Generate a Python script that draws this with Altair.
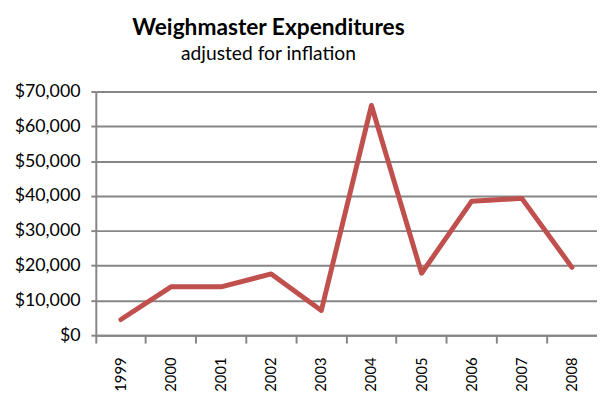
import altair as alt
import pandas as pd

years = ["1999", "2000", "2001", "2002", "2003", "2004", "2005", "2006", "2007", "2008"]
expenditures = [4500, 13900, 13900, 17600, 7100, 66000, 17800, 38500, 39300, 19500]

df = pd.DataFrame({"year": years, "value": expenditures})

grid_color = "#868686"

chart = alt.Chart(df).mark_line(color="#C0504D", strokeWidth=5, strokeJoin="round", strokeCap="round").encode(
    x=alt.X("year:O", sort=years,
            scale=alt.Scale(type="band", paddingInner=0, paddingOuter=0, round=False),
            axis=alt.Axis(title=None, labelAngle=-90, labelAlign="right", labelBaseline="middle",
                          bandPosition=0, tickSize=8, tickWidth=2, tickColor=grid_color,
                          domainColor=grid_color, domainWidth=2, labelPadding=14,
                          labelFont="Lato", labelFontSize=15, labelColor="#000000", grid=False)),
    y=alt.Y("value:Q", scale=alt.Scale(domain=[0, 70000]),
            axis=alt.Axis(title=None, values=[0, 10000, 20000, 30000, 40000, 50000, 60000, 70000],
                          format="$,d", tickSize=5, tickWidth=2, tickColor=grid_color,
                          domainColor=grid_color, domainWidth=2, gridColor=grid_color, gridWidth=2,
                          labelPadding=11, labelFont="Lato", labelFontSize=18, labelColor="#000000")),
).properties(
    width=508, height=247,
    autosize=alt.AutoSizeParams(type="none"),
    padding={"left": 89, "top": 82, "right": 0, "bottom": 62},
    title=alt.TitleParams(text="Weighmaster Expenditures", subtitle="adjusted for inflation",
                          font="Lato", fontSize=23, fontWeight="bold", color="#000000",
                          subtitleFont="Lato", subtitleFontSize=19.5, subtitleColor="#000000",
                          subtitlePadding=6, anchor="middle", dx=-79, offset=19),
).configure_view(stroke=None)

chart.save("out.html", embed_options={"renderer": "svg", "actions": False})
